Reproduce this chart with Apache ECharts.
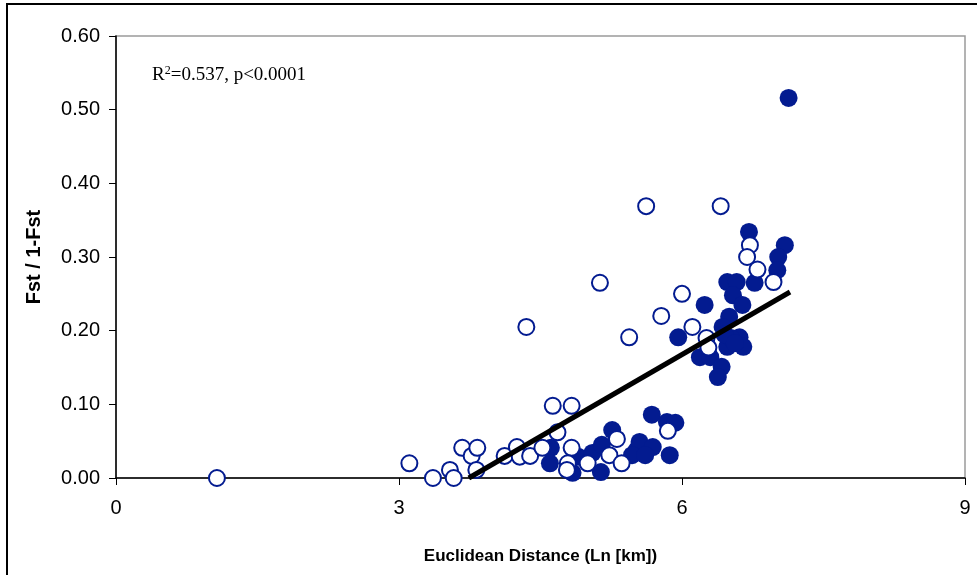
<!DOCTYPE html>
<html>
<head>
<meta charset="utf-8">
<script src="https://cdn.jsdelivr.net/npm/echarts@6/dist/echarts.min.js"></script>
<style>
  html, body { margin: 0; padding: 0; background: #fff; }
  #chart { width: 977px; height: 575px; }
</style>
</head>
<body>
<div id="chart"></div>
<script>
// open circles [ln distance, Fst/(1-Fst)]
var openPoints = [
  [1.07, 0], [3.11, 0.020], [3.36, 0], [3.54, 0.011], [3.58, 0],
  [3.67, 0.041], [3.77, 0.030], [3.83, 0.041], [3.82, 0.011],
  [4.12, 0.030], [4.25, 0.042], [4.28, 0.029], [4.39, 0.030], [4.52, 0.041],
  [4.63, 0.098], [4.68, 0.062], [4.83, 0.098],
  [4.83, 0.041], [4.79, 0.020], [4.78, 0.011], [5.00, 0.020],
  [5.31, 0.053], [5.23, 0.031], [5.36, 0.020], [5.85, 0.064],
  [4.35, 0.205], [5.13, 0.265], [5.44, 0.191], [5.62, 0.369], [5.78, 0.220],
  [6.00, 0.250], [6.11, 0.205], [6.26, 0.190], [6.28, 0.177], [6.41, 0.369],
  [6.72, 0.316], [6.69, 0.300], [6.80, 0.283], [6.97, 0.266]
];

// filled circles
var filledPoints = [
  [4.61, 0.041], [4.60, 0.020], [4.84, 0.007], [4.90, 0.029], [5.05, 0.034],
  [5.15, 0.045], [5.14, 0.008], [5.26, 0.065], [5.52, 0.038], [5.55, 0.049],
  [5.69, 0.042], [5.47, 0.031], [5.61, 0.031], [5.87, 0.031],
  [5.68, 0.086], [5.84, 0.076], [5.93, 0.075],
  [6.71, 0.334], [7.09, 0.316], [7.02, 0.300], [7.01, 0.282],
  [6.77, 0.265], [6.48, 0.266], [6.58, 0.266], [6.54, 0.248], [6.64, 0.235],
  [6.24, 0.235], [6.50, 0.219], [6.43, 0.205], [6.61, 0.191], [6.65, 0.178],
  [5.96, 0.191], [6.19, 0.164], [6.30, 0.164], [6.42, 0.151], [6.38, 0.137],
  [6.48, 0.178], [6.52, 0.190], [6.45, 0.195], [6.56, 0.183], [7.13, 0.516]
];

// regression line end points
var trendLine = [[3.74, 0], [7.145, 0.2525]];

var xTicks = { min: 0, max: 9, interval: 3 };
var yTicks = { min: 0, max: 0.6, interval: 0.1 };

var blue = '#031b90';

var myChart = echarts.init(document.getElementById('chart'));
var options = {
  animation: false,
  grid: {
    left: 116, top: 36, right: 12, bottom: 97,
    show: true, borderColor: '#9a9a9a', borderWidth: 1.5, backgroundColor: 'transparent'
  },
  xAxis: {
    type: 'value',
    min: xTicks.min, max: xTicks.max, interval: xTicks.interval,
    name: 'Euclidean Distance (Ln [km])',
    nameLocation: 'middle',
    nameGap: 70,
    nameTextStyle: { fontFamily: 'Liberation Sans', fontWeight: 'bold', fontSize: 17, color: '#000' },
    axisLine: { show: true, onZero: false, lineStyle: { color: '#000', width: 1.5 } },
    axisTick: { show: true, inside: false, length: 7, lineStyle: { color: '#000' } },
    axisLabel: { margin: 20, fontFamily: 'Liberation Sans', fontSize: 20, color: '#000' },
    splitLine: { show: false }
  },
  yAxis: {
    type: 'value',
    min: yTicks.min, max: yTicks.max, interval: yTicks.interval,
    name: 'Fst / 1-Fst',
    nameLocation: 'middle',
    nameGap: 72,
    nameTextStyle: { fontFamily: 'Liberation Sans', fontWeight: 'bold', fontSize: 20, color: '#000' },
    axisLine: { show: true, lineStyle: { color: '#000', width: 1.5 } },
    axisTick: { show: true, inside: false, length: 7, lineStyle: { color: '#000' } },
    axisLabel: {
      margin: 16, fontFamily: 'Liberation Sans', fontSize: 20, color: '#000',
      formatter: function (v) { return v.toFixed(2); }
    },
    splitLine: { show: false }
  },
  graphic: [
    {
      type: 'rect', silent: true, z: 100,
      shape: { x: 7, y: 4, width: 1000, height: 600 },
      style: { fill: 'none', stroke: '#000', lineWidth: 2 }
    },
    {
      type: 'text', left: 152, top: 65, z: 100,
      style: {
        text: 'R{sup|2}=0.537, p<0.0001',
        fontFamily: 'Liberation Serif', fontSize: 19, fill: '#000',
        rich: { sup: { fontSize: 12, verticalAlign: 'top', padding: [0, 0, 8, 0], fontFamily: 'Liberation Serif' } }
      }
    }
  ],
  series: [
    {
      type: 'scatter',
      data: filledPoints,
      symbol: 'circle',
      symbolSize: 18,
      itemStyle: { color: blue, opacity: 1 },
      z: 2
    },
    {
      type: 'scatter',
      data: openPoints,
      symbol: 'circle',
      symbolSize: 16,
      itemStyle: { color: '#fff', borderColor: blue, borderWidth: 2, opacity: 1 },
      z: 3
    },
    {
      type: 'line',
      data: trendLine,
      symbol: 'none',
      lineStyle: { color: '#000', width: 5 },
      z: 4
    }
  ]
};
myChart.setOption(options);
</script>
</body>
</html>
